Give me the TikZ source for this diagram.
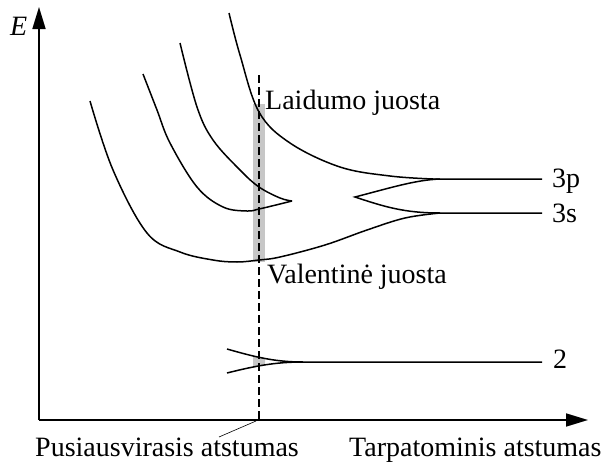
\documentclass[tikz,border=0pt]{standalone}
\usepackage{fontspec}
\setmainfont{Liberation Serif}
\usetikzlibrary{arrows.meta}

\begin{document}
\begin{tikzpicture}[x=1pt, y=-1pt,
    every node/.style={font=\fontsize{28}{32}\selectfont, inner sep=0pt, anchor=base west},
    axis/.style={line width=1.7pt, -{Triangle[width=13pt,length=22pt]}},
    lvl/.style={line width=1.5pt},
    band/.style={fill=black!22},
    eqline/.style={line width=1.5pt, dash pattern=on 8pt off 4pt}
]
  \useasboundingbox (0,0) rectangle (605,463);

  % Pusiausvirojo atstumo juosta (pilka)
  \fill[band] (253,104) rectangle (265,262);
  \begin{scope}
    \clip (253,340) rectangle (265,380);
    \fill[band] (227,349) .. controls (255,357) and (275,362) .. (303,362)
                .. controls (275,362) and (255,366) .. (227,373) -- cycle;
  \end{scope}

  % Asys
  \coordinate (O) at (39,420);
  \draw[axis] (O) -- (39,7);
  \draw[axis] (O) -- (588,420);
  \node (E) at (10,35) {\textit{E}};

  % Laidumo juosta ir 3p lygmuo
  \draw[lvl] plot[smooth, tension=0.6] coordinates {(229,13) (240,55) (259,112) (290,143) (340,167) (390,176) (433,179)} -- (542,179);
  \draw[lvl] plot[smooth, tension=0.6] coordinates {(180,43) (197,107) (213,140) (240,170) (259,187) (280,198) (292,201)};
  \draw[lvl] plot[smooth, tension=0.6] coordinates {(143,74) (157,110) (170,143) (197,187) (223,207) (247,211) (259,209) (280,204) (292,201)};
  % Valentine juosta ir 3s lygmuo
  \draw[lvl] plot[smooth, tension=0.6] coordinates {(90,101) (113,170) (147,233) (180,252) (213,260) (237,262) (259,260) (280,257) (325,245) (367,230) (405,218) (440,213)} -- (542,213);
  % Skilimas tarp 3p ir 3s
  \draw[lvl] (440,179) .. controls (415,180) and (390,188) .. (355,197)
             .. controls (385,207) and (405,213) .. (440,213);

  % 2 lygmuo
  \draw[lvl] (227,349) .. controls (255,357) and (275,362) .. (303,362) -- (542,362);
  \draw[lvl] (227,373) .. controls (255,366) and (275,362) .. (303,362);

  % Pusiausvirasis atstumas
  \coordinate (eqtop) at (259,75);
  \coordinate (eqfoot) at (259,420);
  \draw[eqline] (eqtop) -- (eqfoot);

  % Uzrasai
  \node (cond) at (265,109) {Laidumo juosta};
  \node (val) at (267,283) {Valentinė juosta};
  \node (l3p) at (552,187) {3p};
  \node (l3s) at (552,222) {3s};
  \node (l2) at (553,368) {2};
  \node (eqlab) at (35,456) {Pusiausvirasis atstumas};
  \node (xlab) at (349,456) {Tarpatominis atstumas};
  \coordinate (leadstart) at (219,437);
  \draw[line width=0.6pt] (leadstart) -- (256,421);
\end{tikzpicture}
\end{document}
